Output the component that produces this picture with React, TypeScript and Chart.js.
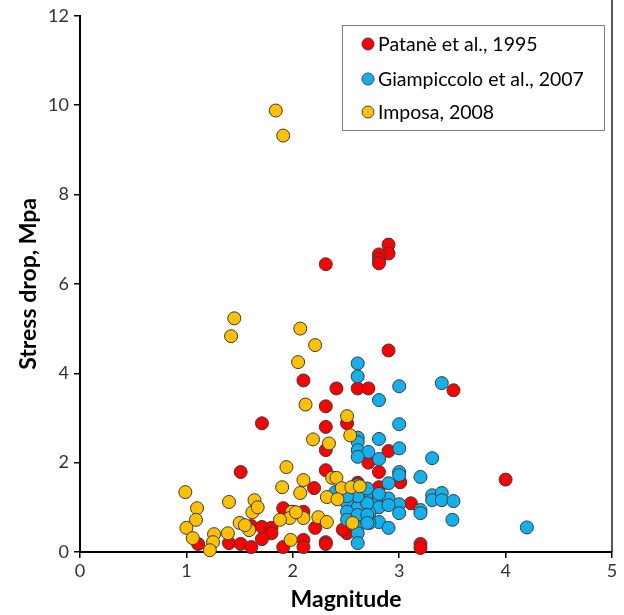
import React, { useEffect, useRef } from "react";
import { Chart, registerables } from "chart.js";

Chart.register(...registerables);

// Patanè et al., 1995 — [magnitude, stress drop]
const patane: number[][] = [
  [2.9, 6.88], [2.9, 6.68], [2.81, 6.66], [2.81, 6.55], [2.81, 6.46], [2.31, 6.44],
  [2.9, 4.51], [3.51, 3.62], [2.61, 3.66], [2.71, 3.66], [2.41, 3.66], [2.1, 3.84],
  [2.31, 3.26], [1.71, 2.88], [2.31, 2.8], [2.51, 2.88], [2.31, 2.28], [2.9, 2.26],
  [2.71, 2.0], [2.81, 1.79], [1.51, 1.79], [2.31, 1.83], [3.01, 1.56], [2.81, 1.45],
  [2.2, 1.43], [4.0, 1.62], [3.11, 1.09], [1.91, 0.98], [2.0, 0.9], [2.1, 0.9],
  [2.21, 0.54], [1.61, 0.58], [1.71, 0.56], [1.8, 0.54], [1.8, 0.42], [1.71, 0.29],
  [1.11, 0.18], [1.4, 0.2], [1.51, 0.18], [1.61, 0.11], [1.91, 0.11], [2.1, 0.27],
  [2.1, 0.11], [2.31, 0.22], [2.31, 0.18], [2.51, 0.42], [2.47, 0.5], [3.2, 0.18],
  [3.2, 0.09], [2.71, 1.2], [2.61, 1.55],
];

// Giampiccolo et al., 2007
const giampiccolo: number[][] = [
  [2.61, 4.22], [2.61, 3.93], [3.0, 3.71], [3.4, 3.78], [2.81, 3.4], [3.0, 2.86],
  [2.81, 2.53], [2.61, 2.56], [2.61, 2.46], [3.0, 2.32], [2.61, 2.28], [2.71, 2.24],
  [2.61, 2.13], [2.81, 2.08], [3.31, 2.1], [3.0, 1.79], [3.0, 1.72], [3.2, 1.68],
  [2.9, 1.54], [2.72, 1.34], [2.81, 1.2], [2.9, 1.2], [3.0, 1.07], [3.0, 0.87],
  [3.2, 0.94], [3.2, 0.87], [3.31, 1.27], [3.31, 1.16], [3.4, 1.32], [3.4, 1.16],
  [3.51, 1.14], [3.5, 0.72], [2.81, 1.0], [2.81, 0.67], [2.9, 0.54], [2.72, 0.87],
  [2.72, 0.65], [4.2, 0.55], [2.51, 1.09], [2.61, 1.0], [2.7, 1.09], [2.51, 0.9],
  [2.61, 0.83], [2.7, 0.83], [2.51, 0.72], [2.61, 0.56], [2.7, 0.65], [2.61, 0.42],
  [2.61, 0.2], [2.4, 1.34], [2.61, 1.25], [2.7, 1.42], [2.61, 1.5], [2.51, 1.25],
  [2.9, 1.05], [2.81, 1.3],
];

// Imposa, 2008
const imposa: number[][] = [
  [1.84, 9.88], [1.91, 9.32], [1.45, 5.23], [1.42, 4.83], [2.07, 5.0], [2.21, 4.63],
  [2.05, 4.25], [2.12, 3.3], [2.51, 3.04], [2.54, 2.61], [2.19, 2.52], [2.34, 2.43],
  [1.94, 1.9], [2.37, 1.66], [2.41, 1.66], [2.1, 1.61], [1.9, 1.45], [2.07, 1.32],
  [2.46, 1.43], [2.55, 1.45], [2.63, 1.47], [2.32, 1.23], [2.42, 1.18], [2.56, 0.65],
  [1.99, 0.9], [1.97, 0.76], [2.1, 0.76], [2.24, 0.78], [2.32, 0.67], [2.03, 0.89],
  [1.98, 0.27], [0.99, 1.34], [1.4, 1.12], [1.64, 1.16], [1.62, 0.89], [1.67, 1.0],
  [1.1, 0.98], [1.09, 0.72], [1.0, 0.54], [1.06, 0.31], [1.26, 0.4], [1.25, 0.22],
  [1.22, 0.04], [1.39, 0.42], [1.5, 0.65], [1.59, 0.49], [1.88, 0.72], [1.55, 0.6],
];

const seriesNames = ["Patanè et al., 1995", "Giampiccolo et al., 2007", "Imposa, 2008"];
const seriesColors = ["#FF0000", "#12B0EC", "#FFC000"];
const xTicks = [0, 1, 2, 3, 4, 5];
const yTicks = [0, 2, 4, 6, 8, 10, 12];

const FONT = "Lato, 'Open Sans', sans-serif";

const legendPlugin = {
  id: "boxLegend",
  afterDraw(chart: any) {
    const ctx = chart.ctx;
    ctx.save();
    const bx = 342, by = 25, bw = 262, bh = 105;
    ctx.fillStyle = "#ffffff";
    ctx.fillRect(bx, by, bw, bh);
    ctx.strokeStyle = "#7f7f7f";
    ctx.lineWidth = 1;
    ctx.strokeRect(bx + 0.5, by + 0.5, bw, bh);
    const rows = [44, 79, 112];
    seriesNames.forEach((name, i) => {
      ctx.beginPath();
      ctx.arc(368, rows[i], 6, 0, Math.PI * 2);
      ctx.fillStyle = seriesColors[i];
      ctx.fill();
      ctx.strokeStyle = "#404040";
      ctx.lineWidth = 1;
      ctx.stroke();
      ctx.fillStyle = "#000000";
      ctx.font = `19.5px ${FONT}`;
      ctx.textBaseline = "middle";
      ctx.textAlign = "left";
      ctx.fillText(name, 378, rows[i] + 1);
    });
    // right frame line of plot area
    const a = chart.chartArea;
    ctx.strokeStyle = "#202020";
    ctx.lineWidth = 1.5;
    ctx.beginPath();
    ctx.moveTo(a.right, 0);
    ctx.lineTo(a.right, a.bottom);
    ctx.stroke();
    ctx.restore();
  },
};

export default function App() {
  const ref = useRef<HTMLCanvasElement>(null);
  useEffect(() => {
    if (!ref.current) return;
    const mk = (arr: number[][]) => arr.map(([x, y]) => ({ x, y }));
    const sets = [patane, giampiccolo, imposa];
    const chart = new Chart(ref.current, {
      type: "scatter",
      data: {
        datasets: sets.map((s, i) => ({
          label: seriesNames[i],
          data: mk(s),
          backgroundColor: seriesColors[i],
          borderColor: "#3a3a3a",
          borderWidth: 1,
          pointRadius: 6.5,
          pointHoverRadius: 6.5,
          order: 2 - i,
          clip: false as any,
        })),
      },
      options: {
        responsive: false,
        animation: false,
        layout: { padding: { top: 15, right: 12, left: 0, bottom: 0 } },
        plugins: { legend: { display: false }, tooltip: { enabled: false } },
        scales: {
          x: {
            type: "linear",
            min: 0,
            max: 5,
            afterBuildTicks: (s: any) => { s.ticks = xTicks.map((v) => ({ value: v })); },
            afterFit: (s: any) => { s.height = 63; },
            grid: { display: true, drawOnChartArea: false, tickLength: 6, color: "#000", lineWidth: 1.5 },
            border: { color: "#000", width: 2 },
            ticks: { font: { family: FONT, size: 18 }, color: "#333", padding: 2 },
            title: { display: true, text: "Magnitude", font: { family: FONT, size: 23, weight: "bold" }, color: "#000", padding: { top: 0, bottom: 2 } },
          },
          y: {
            type: "linear",
            min: 0,
            max: 12,
            afterBuildTicks: (s: any) => { s.ticks = yTicks.map((v) => ({ value: v })); },
            afterFit: (s: any) => { s.width = 80; },
            grid: { display: true, drawOnChartArea: false, tickLength: 6, color: "#000", lineWidth: 1.5 },
            border: { color: "#000", width: 2 },
            ticks: { font: { family: FONT, size: 18 }, color: "#333", padding: 5 },
            title: { display: true, text: "Stress drop, Mpa", font: { family: FONT, size: 23, weight: "bold" }, color: "#000", padding: { top: 15, bottom: 0 } },
          },
        },
      },
      plugins: [legendPlugin],
    });
    return () => chart.destroy();
  }, []);
  return (
    <div style={{ position: "absolute", left: 0, top: 0, width: 624, height: 615, background: "#fff" }}>
      <canvas ref={ref} width={624} height={615} style={{ display: "block" }} />
    </div>
  );
}
